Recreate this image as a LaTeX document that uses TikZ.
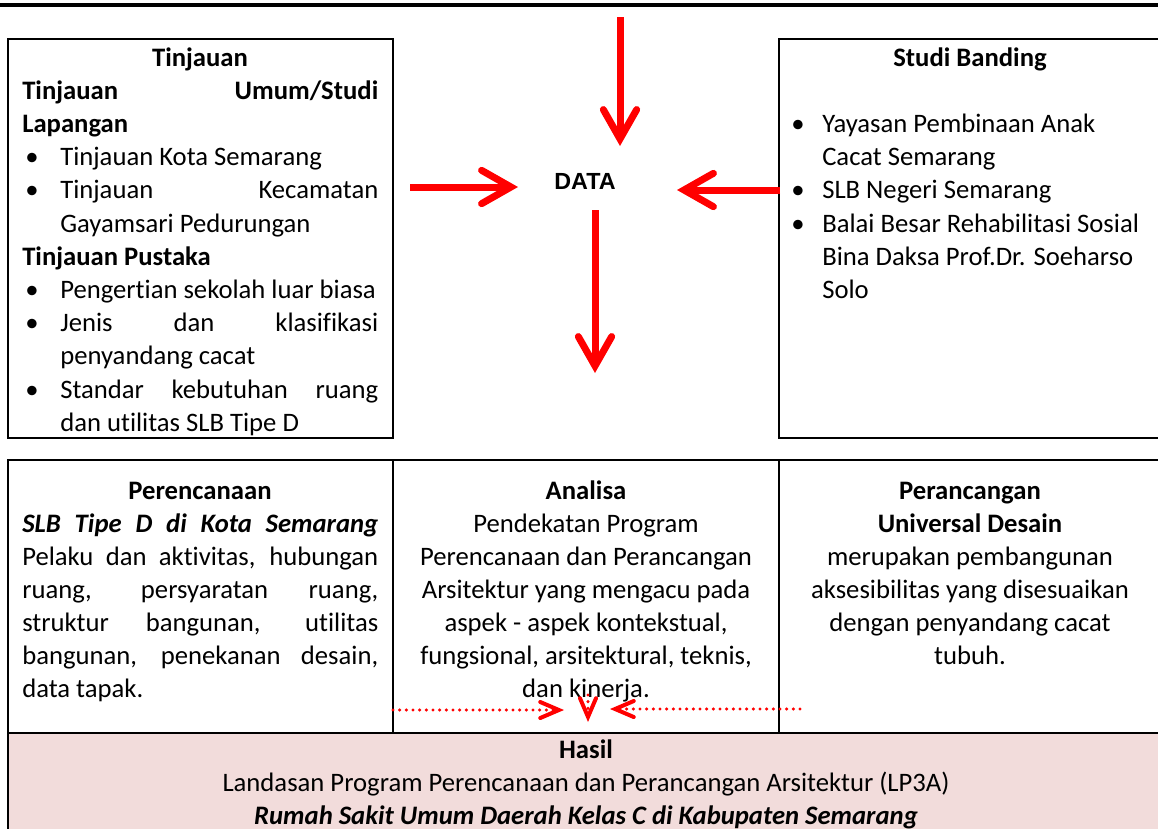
\documentclass[tikz,border=0pt]{standalone}
\usepackage{fontspec}
\setmainfont{Carlito}[Ligatures=NoCommon]
\newfontfamily\datafont{Liberation Sans}
\usetikzlibrary{arrows.meta}

\definecolor{hasilpink}{RGB}{242,220,219}

\tikzset{
    body/.style={inner sep=0pt,font=\fontsize{20pt}{24pt}\selectfont},
    lft/.style={body,anchor=base west},
    mid/.style={body,anchor=base},
    frame/.style={draw,line width=1.5pt},
    flow/.style={red,line width=5.25pt,-{Straight Barb[length=22pt,width=25pt,line cap=round]}},
    hint/.style={red,line width=2.6pt,line cap=round,dash pattern=on 0pt off 5pt,
        -{Straight Barb[length=14pt,width=12pt,line width=3pt,line cap=round]}},
}

\begin{document}
\begin{tikzpicture}[x=0.75pt,y=-0.75pt]
    \useasboundingbox (0,0) rectangle (1158,829);
    \draw[line width=3pt] (0,5) -- (1158,5);

    % upper boxes
    \draw[frame] (8,39) rectangle (393,438);
    \draw[frame] (779,39) rectangle (1170,438);

    \node[mid] at (200,66) (t0) {\bfseries Tinjauan};
    \node[lft] at (22,99.2) (t1) {\bfseries\makebox[267pt][s]{Tinjauan Umum/Studi}};
    \node[lft] at (22,132.4) (t2) {\bfseries Lapangan};
    \node[mid] at (32,165.6) (b1) {•};
    \node[lft] at (60,165.6) (t3) {Tinjauan Kota Semarang};
    \node[mid] at (32,198.8) (b2) {•};
    \node[lft] at (60,198.8) (t4) {\makebox[238.5pt][s]{Tinjauan Kecamatan}};
    \node[lft] at (60,232) (t5) {Gayamsari Pedurungan};
    \node[lft] at (22,265.2) (t6) {\bfseries Tinjauan Pustaka};
    \node[mid] at (32,298.4) (b3) {•};
    \node[lft] at (60,298.4) (t7) {Pengertian sekolah luar biasa};
    \node[mid] at (32,331.6) (b4) {•};
    \node[lft] at (60,331.6) (t8) {\makebox[238.5pt][s]{Jenis dan klasifikasi}};
    \node[lft] at (60,364.8) (t9) {penyandang cacat};
    \node[mid] at (32,398) (b5) {•};
    \node[lft] at (60,398) (t10) {\makebox[238.5pt][s]{Standar kebutuhan ruang}};
    \node[lft] at (60,431.2) (t11) {dan utilitas SLB Tipe D};

    \node[mid] at (970,66) (s0) {\bfseries Studi Banding};
    \node[mid] at (798,132.4) (sb1) {•};
    \node[lft] at (822,132.4) (s1) {Yayasan Pembinaan Anak};
    \node[lft] at (822,165.6) (s2) {Cacat Semarang};
    \node[mid] at (798,198.8) (sb2) {•};
    \node[lft] at (822,198.8) (s3) {SLB Negeri Semarang};
    \node[mid] at (798,232) (sb3) {•};
    \node[lft] at (822,232) (s4) {Balai Besar Rehabilitasi Sosial};
    \node[lft] at (822,265.2) (s5) {Bina Daksa Prof.Dr. Soeharso};
    \node[lft] at (822,298.4) (s6) {Solo};

    \node[font=\datafont\bfseries\fontsize{17.5pt}{19pt}\selectfont,inner sep=0pt] at (585,181) (data) {DATA};

    \coordinate (topin) at (620,17);
    \coordinate (topend) at (620,146);
    \coordinate (leftin) at (410,187);
    \coordinate (leftend) at (518,187);
    \coordinate (rightin) at (780,190);
    \coordinate (rightend) at (677,190);
    \coordinate (downin) at (595,210);
    \coordinate (downend) at (595,373);
    \draw[flow] (topin) -- (topend);
    \draw[flow] (leftin) -- (leftend);
    \draw[flow] (rightin) -- (rightend);
    \draw[flow] (downin) -- (downend);

    % lower table
    \fill[hasilpink] (8,733) rectangle (1170,840);
    \draw[frame] (8,460) rectangle (1170,840);
    \draw[frame] (8,733) -- (1170,733);
    \draw[frame] (393,460) -- (393,733);
    \draw[frame] (779,460) -- (779,733);

    \node[mid] at (200,499) (p0) {\bfseries Perencanaan};
    \node[lft] at (22,532) (p1) {\bfseries\itshape\makebox[267pt][s]{SLB Tipe D di Kota Semarang}};
    \node[lft] at (22,565) (p2) {\makebox[267pt][s]{Pelaku dan aktivitas, hubungan}};
    \node[lft] at (22,598) (p3) {\makebox[267pt][s]{ruang, persyaratan ruang,}};
    \node[lft] at (22,631) (p4) {\makebox[267pt][s]{struktur bangunan, utilitas}};
    \node[lft] at (22,664) (p5) {\makebox[267pt][s]{bangunan, penekanan desain,}};
    \node[lft] at (22,697) (p6) {data tapak.};

    \node[mid] at (586,499) (a0) {\bfseries Analisa};
    \node[mid] at (586,532) (a1) {Pendekatan Program};
    \node[mid] at (586,565) (a2) {Perencanaan dan Perancangan};
    \node[mid] at (586,598) (a3) {Arsitektur yang mengacu pada};
    \node[mid] at (586,631) (a4) {aspek - aspek kontekstual,};
    \node[mid] at (586,664) (a5) {fungsional, arsitektural, teknis,};
    \node[mid] at (586,697) (a6) {dan kinerja.};

    \node[mid] at (970,499) (d0) {\bfseries Perancangan};
    \node[mid] at (970,532) (d1) {\bfseries Universal Desain};
    \node[mid] at (970,565) (d2) {merupakan pembangunan};
    \node[mid] at (970,598) (d3) {aksesibilitas yang disesuaikan};
    \node[mid] at (970,631) (d4) {dengan penyandang cacat};
    \node[mid] at (970,664) (d5) {tubuh.};

    \coordinate (dotl) at (393,710);
    \coordinate (dotlend) at (564,710);
    \coordinate (dotr) at (800,709);
    \coordinate (dotrend) at (610,709);
    \coordinate (dotm) at (588,695);
    \coordinate (dotmend) at (588,722);
    \draw[hint] (dotl) -- (dotlend);
    \draw[hint] (dotr) -- (dotrend);
    \draw[hint] (dotm) -- (dotmend);

    \node[mid] at (586,758) (h0) {\bfseries Hasil};
    \node[mid] at (586,791) (h1) {Landasan Program Perencanaan dan Perancangan Arsitektur (LP3A)};
    \node[mid] at (586,824) (h2) {\bfseries\itshape Rumah Sakit Umum Daerah Kelas C di Kabupaten Semarang};
\end{tikzpicture}
\end{document}
